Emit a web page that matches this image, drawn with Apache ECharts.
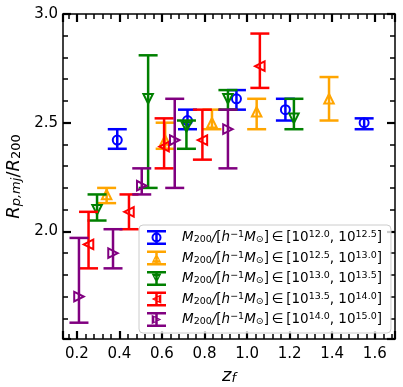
<!DOCTYPE html>
<html>
<head>
<meta charset="utf-8">
<script src="https://cdn.jsdelivr.net/npm/echarts@6/dist/echarts.min.js"></script>
<style>
  html, body { margin: 0; padding: 0; background: #fff; }
  #chart { width: 403px; height: 387px; }
</style>
</head>
<body>
<div id="chart"></div>
<script>
// mass bins (exponents) for the legend
var massBins = [["12.0", "12.5"], ["12.5", "13.0"], ["13.0", "13.5"], ["13.5", "14.0"], ["14.0", "15.0"]];

// z_f, median, lower, upper for each bin
var zf1 = [0.39, 0.72, 0.95, 1.18, 1.55];
var ratio1 = [2.42, 2.51, 2.61, 2.56, 2.50];
var lo1 = [2.38, 2.47, 2.56, 2.51, 2.47];
var hi1 = [2.47, 2.56, 2.65, 2.61, 2.52];

var zf2 = [0.34, 0.615, 0.835, 1.045, 1.385];
var ratio2 = [2.17, 2.42, 2.50, 2.55, 2.61];
var lo2 = [2.13, 2.38, 2.47, 2.47, 2.51];
var hi2 = [2.20, 2.50, 2.56, 2.61, 2.71];

var zf3 = [0.295, 0.535, 0.715, 0.91, 1.22];
var ratio3 = [2.10, 2.61, 2.48, 2.61, 2.52];
var lo3 = [2.05, 2.20, 2.38, 2.56, 2.47];
var hi3 = [2.17, 2.81, 2.51, 2.65, 2.61];

var zf4 = [0.255, 0.445, 0.61, 0.79, 1.06];
var ratio4 = [1.94, 2.09, 2.39, 2.42, 2.76];
var lo4 = [1.83, 2.01, 2.29, 2.33, 2.66];
var hi4 = [2.09, 2.17, 2.52, 2.56, 2.91];

var zf5 = [0.21, 0.37, 0.505, 0.66, 0.91];
var ratio5 = [1.70, 1.90, 2.21, 2.42, 2.47];
var lo5 = [1.58, 1.83, 2.17, 2.20, 2.29];
var hi5 = [1.97, 2.01, 2.29, 2.61, 2.56];

var groups = [
  { zf: zf1, y: ratio1, lo: lo1, hi: hi1, color: "#0000ff", marker: "circle" },
  { zf: zf2, y: ratio2, lo: lo2, hi: hi2, color: "#ffa500", marker: "up" },
  { zf: zf3, y: ratio3, lo: lo3, hi: hi3, color: "#008000", marker: "down" },
  { zf: zf4, y: ratio4, lo: lo4, hi: hi4, color: "#ff0000", marker: "left" },
  { zf: zf5, y: ratio5, lo: lo5, hi: hi5, color: "#800080", marker: "right" }
];

var FONT = "DejaVu Sans";

// legend handle: error bar with caps and a hollow marker
function polyPath(pts) {
  return "M" + pts.map(function (p) { return p[0].toFixed(2) + " " + p[1].toFixed(2); }).join(" L") + " Z ";
}
function legendIcon(marker) {
  var w = 19, h = 15, cx = w / 2, cy = h / 2;
  var p = "path://";
  p += polyPath([[0, 0], [w, 0], [w, 2.5], [0, 2.5]]);
  p += polyPath([[0, h - 2.5], [w, h - 2.5], [w, h], [0, h]]);
  p += polyPath([[cx - 1.25, 0], [cx + 1.25, 0], [cx + 1.25, h], [cx - 1.25, h]]);
  if (marker === "circle") {
    p += "M" + (cx + 5) + " " + cy + " A5 5 0 1 1 " + (cx - 5) + " " + cy + " A5 5 0 1 1 " + (cx + 5) + " " + cy + " Z ";
    p += "M" + (cx + 3) + " " + cy + " A3 3 0 1 0 " + (cx - 3) + " " + cy + " A3 3 0 1 0 " + (cx + 3) + " " + cy + " Z";
    return p;
  }
  var ang = { up: 0, down: 180, left: -90, right: 90 }[marker] * Math.PI / 180;
  var base = [[0, -1], [1, 1], [-1, 1]];
  function tri(r) {
    return base.map(function (v) {
      var x = v[0] * Math.cos(ang) - v[1] * Math.sin(ang);
      var y = v[0] * Math.sin(ang) + v[1] * Math.cos(ang);
      return [cx + x * r, cy + y * r];
    });
  }
  p += polyPath(tri(4.8));
  p += polyPath(tri(2.2).reverse());
  return p;
}

var symbolRot = { circle: 0, up: 0, down: 180, left: 90, right: -90 };

function renderErr(params, api) {
  var x = api.value(0);
  var pLo = api.coord([x, api.value(1)]);
  var pHi = api.coord([x, api.value(2)]);
  var c = api.visual("color");
  var st = { stroke: c, lineWidth: 2.5, fill: null };
  var half = 9.5;
  return {
    type: "group",
    children: [
      { type: "line", shape: { x1: pLo[0], y1: pLo[1], x2: pHi[0], y2: pHi[1] }, style: st },
      { type: "line", shape: { x1: pLo[0] - half, y1: pLo[1], x2: pLo[0] + half, y2: pLo[1] }, style: st },
      { type: "line", shape: { x1: pHi[0] - half, y1: pHi[1], x2: pHi[0] + half, y2: pHi[1] }, style: st }
    ]
  };
}

var series = [];
var legendData = [];
groups.forEach(function (g, k) {
  var name = "bin" + k;
  series.push({
    name: name,
    type: "custom",
    renderItem: renderErr,
    itemStyle: { color: g.color },
    data: g.zf.map(function (x, i) { return [x, g.lo[i], g.hi[i]]; }),
    encode: { x: 0, y: [1, 2] },
    z: 2 + k * 2
  });
  series.push({
    name: name,
    type: "scatter",
    symbol: g.marker === "circle" ? "circle" : "triangle",
    symbolSize: g.marker === "circle" ? 9 : 9.5,
    symbolRotate: symbolRot[g.marker],
    itemStyle: { color: "rgba(0,0,0,0)", borderColor: g.color, borderWidth: 2, opacity: 1 },
    data: g.zf.map(function (x, i) { return [x, g.y[i]]; }),
    z: 3 + k * 2
  });
  legendData.push({ name: name, icon: legendIcon(g.marker), itemStyle: { color: g.color, borderWidth: 0 } });
});

function legendText(name) {
  var b = massBins[Number(name.slice(3))];
  return "{sp|}{i|M}{sub|200}{i|/}{n|[}{i|h}{sup|\u22121}{i|M}{sub|\u2299}{n|]\u2009\u2208\u2009[10}{sup|" + b[0] + "}{n|, 10}{sup|" + b[1] + "}{n|]}";
}

var tickStyle = { color: "#000", width: 2.2 };
var minorStyle = { color: "#000", width: 1.5 };

function makeAxis(extra) {
  var base = {
    type: "value",
    axisLine: { show: true, onZero: false, lineStyle: { color: "#000", width: 1.5 } },
    axisTick: { show: true, inside: true, length: 8, lineStyle: tickStyle },
    minorTick: { show: true, splitNumber: 5, length: 5, lineStyle: minorStyle },
    splitLine: { show: false },
    axisLabel: {
      show: true, color: "#000", fontFamily: FONT, fontSize: 15,
      showMinLabel: false, showMaxLabel: false,
      formatter: function (v) { return v.toFixed(1); }
    }
  };
  return Object.assign(base, extra);
}

var chart = echarts.init(document.getElementById("chart"), null, { renderer: "canvas" });
chart.setOption({
  animation: false,
  backgroundColor: "#fff",
  grid: { left: 63, top: 14, right: 8, bottom: 48, containLabel: false, outerBoundsMode: "none" },
  xAxis: [
    makeAxis({
      position: "bottom", min: 0.135, max: 1.695, minInterval: 0.2, maxInterval: 0.2,
      name: "{i|z}{sub|f}", nameLocation: "middle", nameGap: 21,
      nameTextStyle: {
        color: "#000",
        rich: {
          i: { fontFamily: FONT, fontStyle: "italic", fontSize: 18, color: "#000" },
          sub: { fontFamily: FONT, fontStyle: "italic", fontSize: 13, color: "#000", verticalAlign: "bottom", lineHeight: 13 }
        }
      }
    }),
    makeAxis({
      position: "top", min: 0.135, max: 1.695, minInterval: 0.2, maxInterval: 0.2,
      axisLabel: { show: false }
    })
  ],
  yAxis: [
    makeAxis({
      position: "left", min: 1.505, max: 3.0, minInterval: 0.5, maxInterval: 0.5,
      axisLabel: {
        show: true, color: "#000", fontFamily: FONT, fontSize: 15, margin: 5,
        showMinLabel: false, showMaxLabel: true,
        formatter: function (v) { return v.toFixed(1); }
      },
      name: "{i|R}{subi|p,mj}{n|/}{i|R}{sub|200}", nameLocation: "middle", nameGap: 34, nameRotate: 90,
      nameTextStyle: {
        color: "#000",
        rich: {
          i: { fontFamily: FONT, fontStyle: "italic", fontSize: 18, color: "#000" },
          n: { fontFamily: FONT, fontSize: 18, color: "#000" },
          subi: { fontFamily: FONT, fontStyle: "italic", fontSize: 13, color: "#000", verticalAlign: "bottom", lineHeight: 13 },
          sub: { fontFamily: FONT, fontSize: 13, color: "#000", verticalAlign: "bottom", lineHeight: 13 }
        }
      }
    }),
    makeAxis({
      position: "right", min: 1.505, max: 3.0, minInterval: 0.5, maxInterval: 0.5,
      axisLabel: { show: false }
    })
  ],
  legend: {
    orient: "vertical",
    left: 139,
    top: 225,
    padding: [5, 9, 6, 8],
    itemWidth: 19,
    itemHeight: 15,
    itemGap: 5.5,
    backgroundColor: "rgba(255,255,255,0.8)",
    borderColor: "#cccccc",
    borderWidth: 1,
    borderRadius: 4,
    data: legendData,
    formatter: legendText,
    textStyle: {
      color: "#000",
      fontFamily: FONT,
      fontSize: 13.5,
      rich: {
        sp: { width: 11 },
        i: { fontFamily: FONT, fontStyle: "italic", fontSize: 13.5, color: "#000", lineHeight: 15 },
        n: { fontFamily: FONT, fontSize: 13.5, color: "#000", lineHeight: 15 },
        sub: { fontFamily: FONT, fontSize: 9.5, color: "#000", verticalAlign: "bottom", lineHeight: 10 },
        sup: { fontFamily: FONT, fontSize: 9.5, color: "#000", verticalAlign: "top", lineHeight: 10 }
      }
    }
  },
  series: series
});
</script>
</body>
</html>
